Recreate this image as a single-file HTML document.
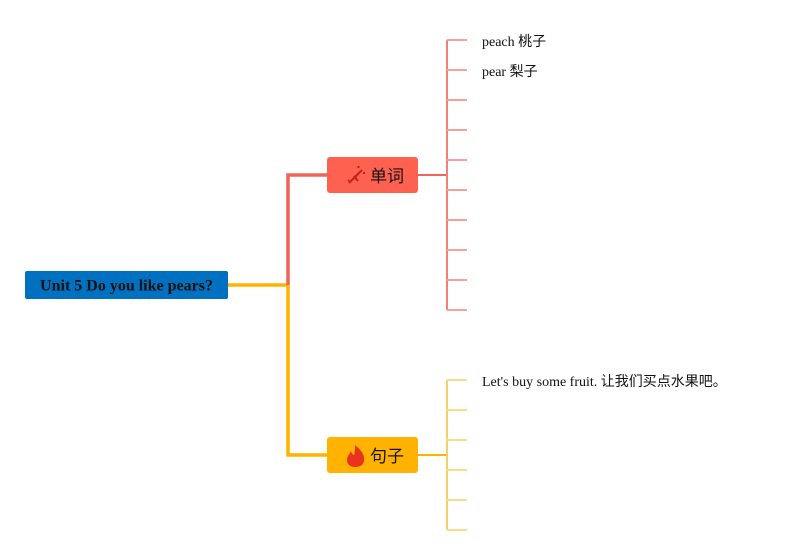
<!DOCTYPE html>
<html><head><meta charset="utf-8"><style>body{margin:0;background:#fff}svg{display:block}</style></head>
<body>
<svg width="787" height="555" viewBox="0 0 787 555" xmlns="http://www.w3.org/2000/svg" font-family="'Liberation Serif','Noto Sans CJK SC',serif">
<path d="M228 285H288V455H328" stroke="#ffb300" stroke-width="3.5" fill="none"/>
<path d="M288 285V175H328" stroke="#f0645a" stroke-width="3.5" fill="none"/>
<rect x="25" y="271" width="203" height="28" rx="2" fill="#0070c0"/>
<text x="126.5" y="290.5" text-anchor="middle" font-weight="bold" font-size="16" fill="#111">Unit 5 Do you like pears?</text>
<rect x="327" y="157" width="91" height="36" rx="3" fill="#ff6150"/>
<path d="M349 183L362 170M354 176l4 5M358 168l1-2M363 173l2 0M348 180l1 1" stroke="#c0221a" stroke-width="2" fill="none"/>
<text x="370" y="182" font-family="'Noto Sans CJK SC',sans-serif" font-size="17" fill="#111">单词</text>
<rect x="327" y="437" width="91" height="36" rx="3" fill="#ffb300"/>
<path d="M355 445c6 5 10 10 9 16c-1 5-5 6-9 6c-5 0-8-3-8-7c0-4 3-6 4-9c1 3 2 4 3 4c1-3 1-6 1-10z" fill="#e8341c"/>
<text x="370" y="462" font-family="'Noto Sans CJK SC',sans-serif" font-size="17" fill="#111">句子</text>
<path d="M417 175H447" stroke="#f0645a" stroke-width="2"/>
<path d="M447 40V310" stroke="#f08078" stroke-width="2"/>
<g stroke="#f5a09a" stroke-width="2">
<path d="M447 40H467M447 70H467M447 100H467M447 130H467M447 160H467M447 190H467M447 220H467M447 250H467M447 280H467M447 310H467"/>
</g>
<path d="M417 455H447" stroke="#ffb300" stroke-width="2"/>
<path d="M447 380V530" stroke="#f7cf6a" stroke-width="2"/>
<g stroke="#f9dc8a" stroke-width="2">
<path d="M447 380H467M447 410H467M447 440H467M447 470H467M447 500H467M447 530H467"/>
</g>
<g font-size="14" fill="#111">
<text x="482" y="46">peach 桃子</text>
<text x="482" y="76">pear 梨子</text>
<text x="482" y="386">Let's buy some fruit. 让我们买点水果吧。</text>
</g>
</svg>
</body></html>
